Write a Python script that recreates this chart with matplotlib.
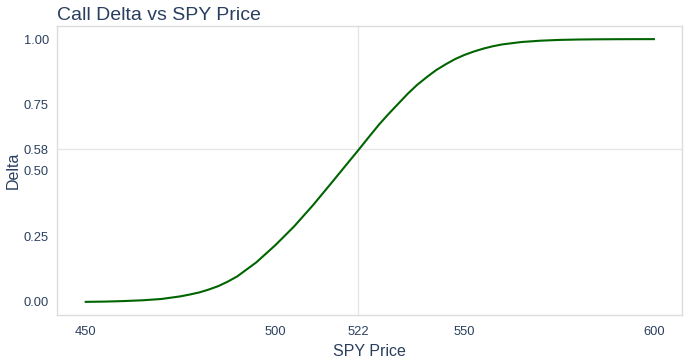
#!/usr/bin/env python3
"""Call delta vs SPY price."""

import matplotlib
matplotlib.use('Agg')
import matplotlib.pyplot as plt

# values
spy_price = [450, 455, 460, 465, 470, 475, 477.5, 480, 482.5, 485, 487.5,
             490, 495, 500, 505, 510, 515, 520, 522, 525, 527.5, 530, 535,
             537.5, 540, 542.5, 545, 547.5, 550, 552.5, 555, 557.5, 560,
             565, 570, 575, 580, 585, 590, 595, 600]
call_delta = [0.000, 0.001, 0.003, 0.006, 0.011, 0.021, 0.028, 0.036,
              0.047, 0.060, 0.077, 0.097, 0.150, 0.215, 0.287, 0.368,
              0.455, 0.543, 0.578, 0.632, 0.676, 0.716, 0.792, 0.826,
              0.855, 0.882, 0.904, 0.924, 0.940, 0.953, 0.964, 0.973,
              0.980, 0.989, 0.994, 0.997, 0.9985, 0.9993, 0.9997, 0.9999,
              1.000]

current_price = 522
current_delta = 0.58
x_ticks = [450, 500, 522, 550, 600]
y_ticks = [0.00, 0.25, 0.50, 0.58, 0.75, 1.00]

TEXT = '#2a3f5f'
plt.rcParams['font.family'] = ['Liberation Sans', 'DejaVu Sans']

fig = plt.figure(figsize=(6.89, 3.60), dpi=100)
ax = fig.add_axes([0.0832, 0.125, 0.9071, 0.8028])

ax.axvline(current_price, color='#e6e6e6', linewidth=0.9, zorder=1)
ax.axhline(current_delta, color='#e6e6e6', linewidth=0.9, zorder=1)
ax.plot(spy_price, call_delta, color='#006400', linewidth=1.5, zorder=3,
        solid_joinstyle='round')

ax.set_xlim(442.5, 607.5)
ax.set_ylim(-0.05, 1.05)
ax.set_xticks(x_ticks)
ax.set_xticklabels([str(t) for t in x_ticks])
ax.set_yticks(y_ticks)
ax.set_yticklabels([f'{t:.2f}' for t in y_ticks])
ax.tick_params(length=0, labelsize=9.3, labelcolor=TEXT)
ax.tick_params(axis='x', pad=8)
ax.tick_params(axis='y', pad=6)

for spine in ax.spines.values():
    spine.set_color('#dcdcdc')
    spine.set_linewidth(1.0)

ax.set_xlabel('SPY Price', fontsize=11.5, color=TEXT, labelpad=4)
ax.set_ylabel('Delta', fontsize=11.5, color=TEXT, labelpad=2)
ax.set_title('Call Delta vs SPY Price', loc='left', fontsize=14,
             color=TEXT, pad=4)

fig.savefig('out.png', dpi=100)
plt.close(fig)
